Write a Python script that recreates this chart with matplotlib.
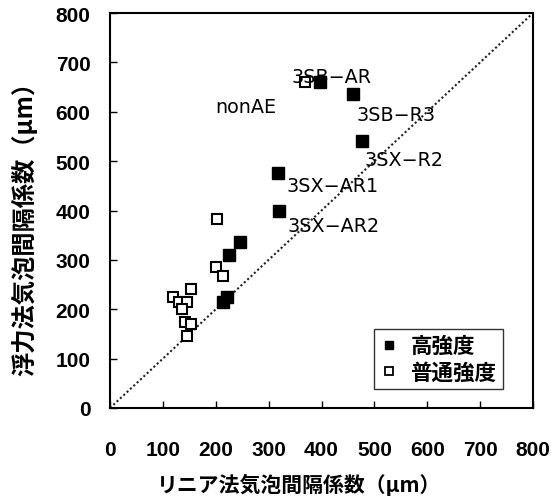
import matplotlib
matplotlib.use("Agg")
import matplotlib.pyplot as plt
from matplotlib.lines import Line2D

# data
high_x = [397, 460, 476, 317, 320, 246, 226, 221, 214]
high_y = [660, 636, 541, 476, 400, 336, 310, 225, 214]
normal_x = [369, 202, 200, 213, 153, 120, 131, 145, 137, 142, 154, 145]
normal_y = [660, 383, 286, 268, 241, 225, 214, 214, 200, 175, 170, 146]
labels = ["3SB−AR", "nonAE", "3SB−R3", "3SX−R2", "3SX−AR1", "3SX−AR2"]
label_x = [344, 199, 467, 482, 333, 335]
label_y = [672, 610, 595, 504, 450, 369]
ticks = [0, 100, 200, 300, 400, 500, 600, 700, 800]
legend_names = ["高強度", "普通強度"]

cjk = ["Noto Sans CJK JP", "DejaVu Sans"]

fig = plt.figure(figsize=(5.51, 5.02), dpi=100)
ax = fig.add_axes([110/551, 1 - 409/502, 423/551, 395/502])

ax.plot([0, 800], [0, 800], color="#222222", linestyle=(0, (1, 1.2)), linewidth=1.5, zorder=1)
ax.plot(normal_x, normal_y, linestyle="none", marker="s", markersize=7.5,
        markerfacecolor="white", markeredgecolor="black", markeredgewidth=1.5, zorder=3)
ax.plot(high_x, high_y, linestyle="none", marker="s", markersize=8,
        markerfacecolor="black", markeredgecolor="black", zorder=4)

for t, x, y in zip(labels, label_x, label_y):
    ax.text(x, y, t, fontsize=13.8, family="DejaVu Sans", ha="left", va="center", zorder=5)

ax.set_xlim(0, 800)
ax.set_ylim(0, 800)
ax.set_xticks(ticks)
ax.set_yticks(ticks)
ax.tick_params(direction="in", length=5, width=1, top=False, right=False, pad=0)
ax.tick_params(axis="x", pad=23)
ax.tick_params(axis="y", pad=14)
for lab in ax.get_xticklabels() + ax.get_yticklabels():
    lab.set_fontfamily(["Liberation Sans Narrow", "Liberation Sans"])
    lab.set_fontweight("bold")
    lab.set_fontsize(15)
for s in ax.spines.values():
    s.set_linewidth(1.5)

ax.set_xlabel("リニア法気泡間隔係数（μm）", family=cjk, fontsize=15, fontweight="bold")
ax.set_ylabel("浮力法気泡間隔係数（μm）", family=cjk, fontsize=17.5, fontweight="bold")
ax.xaxis.set_label_coords(0.447, -0.165)
ax.yaxis.set_label_coords(-0.172, 0.47)

handles = [
    Line2D([], [], linestyle="none", marker="s", markersize=6, markerfacecolor="black", markeredgecolor="black"),
    Line2D([], [], linestyle="none", marker="s", markersize=6, markerfacecolor="white", markeredgecolor="black", markeredgewidth=1.3),
]
leg = ax.legend(handles, legend_names, loc="lower right", bbox_to_anchor=(0.929, 0.048),
                prop={"family": cjk, "size": 15.5, "weight": "bold"}, frameon=True,
                fancybox=False, edgecolor="black", handlelength=0.8, handletextpad=0.6,
                borderpad=0.3, labelspacing=0.25, borderaxespad=0)
leg.get_frame().set_linewidth(1.0)

fig.savefig("out.png", dpi=100)
